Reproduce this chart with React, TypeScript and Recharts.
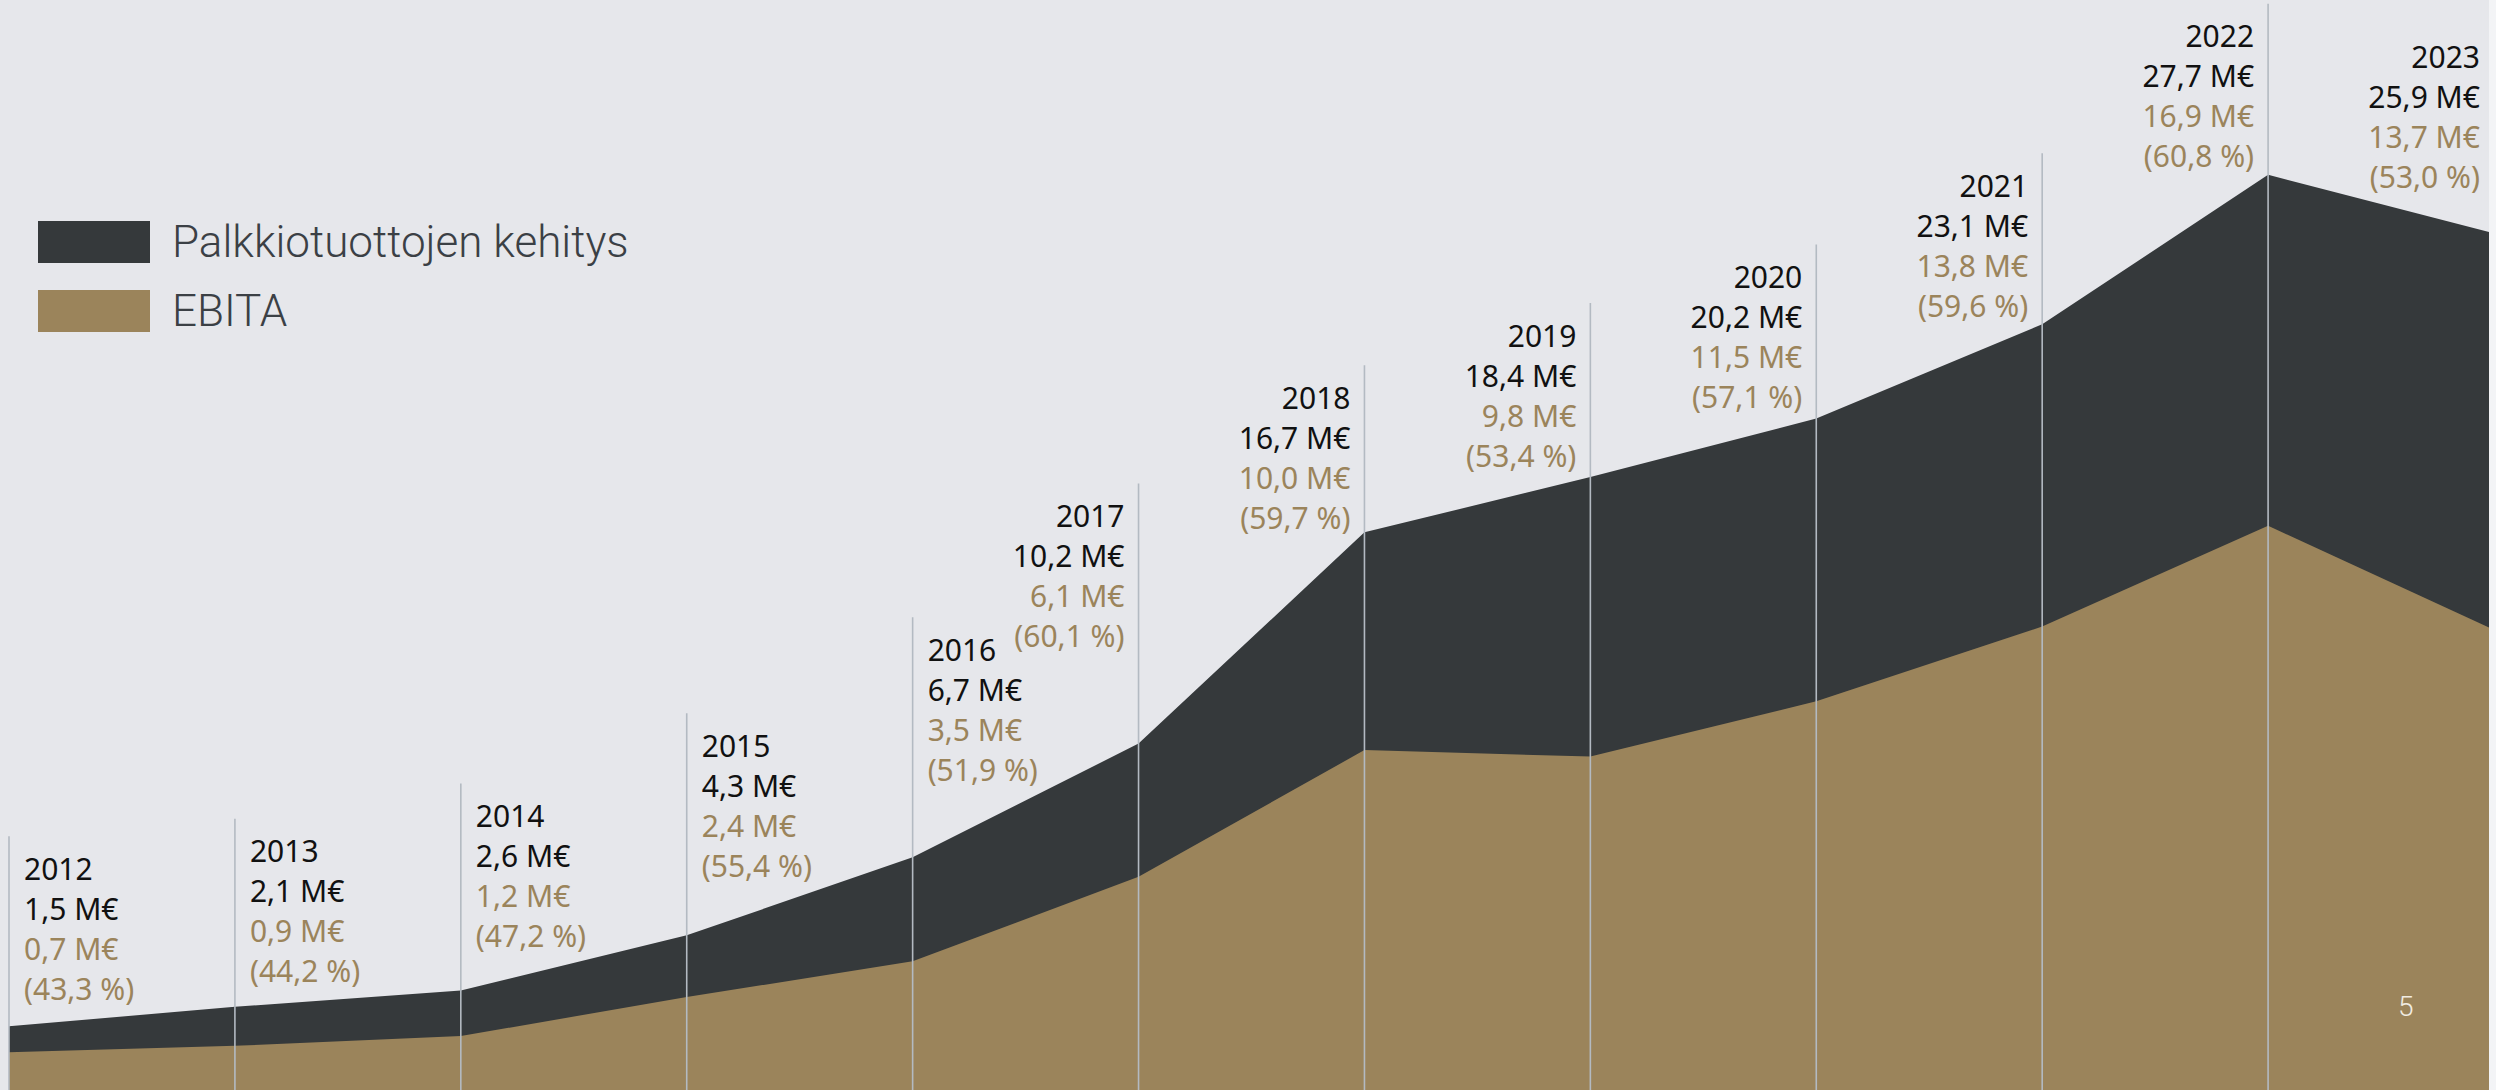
import { ComposedChart, Area, Line, XAxis, YAxis, Legend, LabelList } from "recharts";

const years = ["2012", "2013", "2014", "2015", "2016", "2017", "2018", "2019", "2020", "2021", "2022", "2023"];
const revenue = [1.5, 2.1, 2.6, 4.3, 6.7, 10.2, 16.7, 18.4, 20.2, 23.1, 27.7, 25.9];
const ebita = [0.7, 0.9, 1.2, 2.4, 3.5, 6.1, 10.0, 9.8, 11.5, 13.8, 16.9, 13.7];
const ebitaPct = [43.3, 44.2, 47.2, 55.4, 51.9, 60.1, 59.7, 53.4, 57.1, 59.6, 60.8, 53.0];

// label placement, hand tuned like the original slide: px from the revenue point up to the year line
const labelLift = [157, 155, 174, 189, 207, 227, 134, 141, 141, 138, 138, 176];
const labelSide = ["right", "right", "right", "right", "right", "left", "left", "left", "left", "left", "left", "left"];

const W = 2496;
const H = 1090;
const DARK = "#35393b";
const GOLD = "#9b845b";
const BG = "#e6e7eb";
const GRID = "#b3bac2";

const seriesColor: Record<string, string> = { revenue: DARK, ebita: GOLD };
const legendOrder = ["revenue", "ebita"];

const data = years.map((year, i) => ({ year, revenue: revenue[i], ebita: ebita[i] }));

const fmt = (v: number) => v.toFixed(1).replace(".", ",");

const YearLabel = (props: any) => {
  const index: number = props.index;
  const x: number = props.x ?? props.viewBox?.x;
  const y: number = props.y ?? props.viewBox?.y;
  if (x == null || y == null) return null;
  const top = y - labelLift[index];
  const toLeft = labelSide[index] === "left";
  const tx = toLeft ? x - 14 : x + 15;
  const lines = [
    { text: years[index], color: "#111111" },
    { text: `${fmt(revenue[index])} M€`, color: "#111111" },
    { text: `${fmt(ebita[index])} M€`, color: GOLD },
    { text: `(${fmt(ebitaPct[index])} %)`, color: GOLD },
  ];
  return (
    <g>
      <line x1={x} x2={x} y1={H} y2={top - 33} stroke={GRID} strokeWidth={1.6} />
      {lines.map((l, k) => (
        <text
          key={k}
          x={tx}
          y={top + k * 40 + 10.5}
          textAnchor={toLeft ? "end" : "start"}
          fill={l.color}
          fontWeight={400}
          fontSize={30}
          fontFamily="'Noto Sans', sans-serif"
        >
          {l.text}
        </text>
      ))}
    </g>
  );
};

const LegendBox = ({ payload }: any) => (
  <div>
    {(payload || [])
      .filter((p: any) => p.type !== "none")
      .sort((a: any, b: any) => legendOrder.indexOf(a.dataKey) - legendOrder.indexOf(b.dataKey))
      .map((p: any) => (
        <div key={p.value} style={{ display: "flex", alignItems: "center", height: 42, marginBottom: 27 }}>
          <span style={{ width: 112, height: 42, background: seriesColor[p.dataKey] }} />
          <span
            style={{
              marginLeft: 22,
              fontFamily: "Roboto, sans-serif",
              fontWeight: 300,
              fontSize: 44,
              color: "#3b4045",
              lineHeight: "42px",
            }}
          >
            {p.value}
          </span>
        </div>
      ))}
  </div>
);

const App = () => (
  <div style={{ position: "absolute", left: 0, top: 0, width: W, height: H, background: "#f3f4f6", overflow: "hidden" }}>
    <div style={{ position: "absolute", left: 0, top: 0, width: 2489, height: H, background: BG, overflow: "hidden" }}>
      <ComposedChart width={2494} height={H} data={data} margin={{ top: 0, right: 0, bottom: 0, left: 9 }}>
        <XAxis dataKey="year" scale="point" padding={{ left: 0, right: 0 }} hide />
        <YAxis type="number" domain={[-0.46, 33.08]} allowDataOverflow hide />
        <Legend
          layout="horizontal"
          align="center"
          verticalAlign="middle"
          wrapperStyle={{ left: 38, top: 221, width: "auto" }}
          content={LegendBox}
        />
        <Area
          type="linear"
          dataKey="revenue"
          name="Palkkiotuottojen kehitys"
          fill={DARK}
          fillOpacity={1}
          stroke="none"
          baseValue="dataMin"
          isAnimationActive={false}
        />
        <Area
          type="linear"
          dataKey="ebita"
          name="EBITA"
          fill={GOLD}
          fillOpacity={1}
          stroke="none"
          baseValue="dataMin"
          isAnimationActive={false}
        />
        <Line
          type="linear"
          dataKey="revenue"
          stroke="none"
          dot={false}
          activeDot={false}
          legendType="none"
          isAnimationActive={false}
        >
          <LabelList dataKey="revenue" content={YearLabel} />
        </Line>
      </ComposedChart>
    </div>
    <div
      style={{
        position: "absolute",
        left: 2398,
        top: 990,
        fontFamily: "Roboto, sans-serif",
        fontWeight: 300,
        fontSize: 28,
        color: "#f1ece2",
      }}
    >
      5
    </div>
  </div>
);

export default App;
